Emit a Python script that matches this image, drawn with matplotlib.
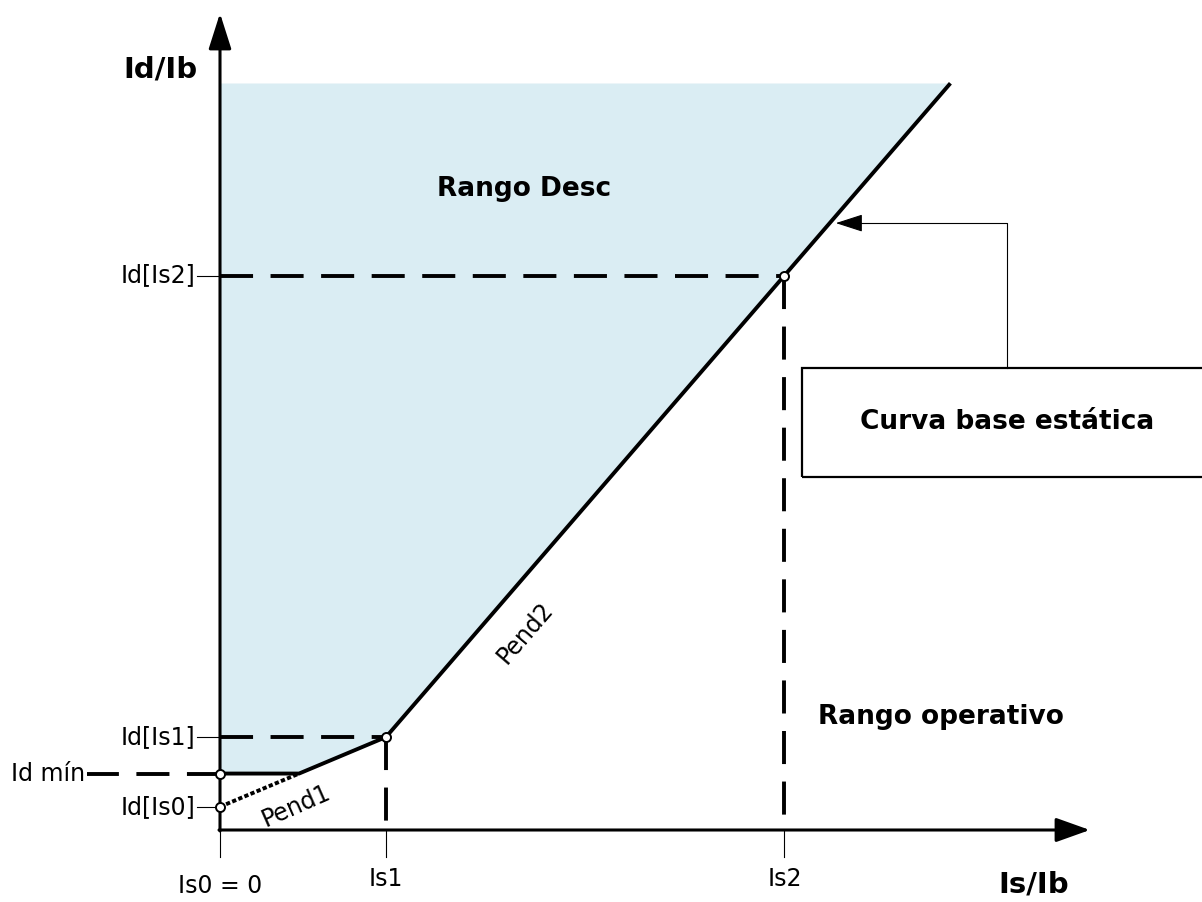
import numpy as np
import matplotlib
matplotlib.use("Agg")
from matplotlib import pyplot as plt
from matplotlib.patches import Rectangle

# valores del diagrama (Is/Ib, Id/Ib)
is_pts = [0.0, 0.5, 1.7]              # Is0, Is1, Is2
is_labels = ["Is0 = 0", "Is1", "Is2"]
id_is0 = 0.07
id_min = 0.17
id_is1 = 0.28
id_is2 = 1.67
x_end = 2.2                            # fin de la curva
id_top = 2.25                          # tope zona de disparo

plt.rcParams["font.family"] = ["DejaVu Sans"]

fig = plt.figure(figsize=(12.02, 9.02), dpi=100)
ax = fig.add_axes([0, 0, 1, 1])
ax.set_xlim(-220 / 332, 982 / 332)
ax.set_ylim(-72 / 332, 830 / 332)
ax.axis("off")

is0, is1, is2 = is_pts
pend1 = (id_is1 - id_is0) / (is1 - is0)
pend2 = (id_is2 - id_is1) / (is2 - is1)
x_cross = (id_min - id_is0) / pend1
y_end = id_is1 + pend2 * (x_end - is1)

# curva base
cx = [0, x_cross, is1, x_end]
cy = [id_min, id_min, id_is1, y_end]

# zona de disparo
ax.fill_between(cx, cy, id_top, color="#daedf3", lw=0, zorder=0)

lw = 2.8
dash = (0, (8.5, 4.5))
ax.plot(cx, cy, color="k", lw=lw, solid_capstyle="butt", zorder=3)
ax.plot([0, x_cross], [id_is0, id_min], color="k", lw=lw, ls=(0, (1.1, 0.6)), zorder=3)

# lineas de referencia
ax.plot([0, is2], [id_is2, id_is2], color="k", lw=lw, ls=dash, zorder=2)
ax.plot([0, is1], [id_is1, id_is1], color="k", lw=lw, ls=dash, zorder=2)
ax.plot([0, -0.4], [id_min, id_min], color="k", lw=lw, ls=dash, zorder=2)
ax.plot([is1, is1], [id_is1, 0], color="k", lw=lw, ls=dash, zorder=2)
ax.plot([is2, is2], [id_is2, 0], color="k", lw=lw, ls=dash, zorder=2)

# puntos
ax.plot([0, 0, is1, is2], [id_is0, id_min, id_is1, id_is2], "o", ms=6.5,
        mfc="white", mec="k", mew=1.4, zorder=5)

# ejes con flecha
ax.annotate("", xy=(2.62, 0), xytext=(-0.003, 0),
            arrowprops=dict(arrowstyle="-|>,head_length=2.1,head_width=0.75",
                            mutation_scale=10, lw=2.2, color="k",
                            shrinkA=0, shrinkB=0), zorder=4)
ax.annotate("", xy=(0, 2.46), xytext=(0, -0.003),
            arrowprops=dict(arrowstyle="-|>,head_length=2.2,head_width=0.7",
                            mutation_scale=10, lw=2.2, color="k",
                            shrinkA=0, shrinkB=0), zorder=4)

# marcas
fs = 17
for x, lab in zip(is_pts, is_labels):
    ax.plot([x, x], [0, -0.08], color="k", lw=0.8, zorder=1)
    dy = -0.17 if x == 0 else -0.148
    ax.text(x, dy, lab, fontsize=fs, ha="center", va="center")

for y, lab in zip([id_is0, id_is1, id_is2], ["Id[Is0]", "Id[Is1]", "Id[Is2]"]):
    ax.plot([-0.07, 0], [y, y], color="k", lw=0.8, zorder=1)
    ax.text(-0.075, y, lab, fontsize=fs, ha="right", va="center")
ax.text(-0.63, id_min, "Id mín", fontsize=fs, ha="left", va="center")

# titulos
ax.text(-0.18, 2.29, "Id/Ib", fontsize=21, fontweight="bold", ha="center", va="center")
ax.text(2.45, -0.165, "Is/Ib", fontsize=21, fontweight="bold", ha="center", va="center")
ax.text(0.915, 1.93, "Rango Desc", fontsize=19, fontweight="bold", ha="center", va="center")
ax.text(2.17, 0.34, "Rango operativo", fontsize=19, fontweight="bold", ha="center", va="center")
ax.text(0.229, 0.072, "Pend1", fontsize=17, rotation=np.degrees(np.arctan(pend1)) + 1,
        ha="center", va="center")
ax.text(0.919, 0.593, "Pend2", fontsize=17, rotation=np.degrees(np.arctan(pend2)),
        ha="center", va="center")

# cuadro de la curva base
box_x0, box_y0, box_y1 = 1.753, 1.063, 1.392
ax.add_patch(Rectangle((box_x0, box_y0), 1.3, box_y1 - box_y0, fill=False,
                       ec="k", lw=1.6, zorder=4))
ax.text(2.37, 1.228, "Curva base estática", fontsize=19, fontweight="bold",
        ha="center", va="center")
x_link = 2.37
x_tip = 1.855
y_tip = 1.828
ax.plot([x_link, x_link, x_tip + 0.06], [box_y1, y_tip, y_tip], color="k", lw=0.8)
ax.annotate("", xy=(x_tip, y_tip), xytext=(x_tip + 0.07, y_tip),
            arrowprops=dict(arrowstyle="-|>,head_length=1.7,head_width=0.55",
                            mutation_scale=10, lw=0.8, color="k",
                            shrinkA=0, shrinkB=0))

fig.savefig("out.png", dpi=100)
